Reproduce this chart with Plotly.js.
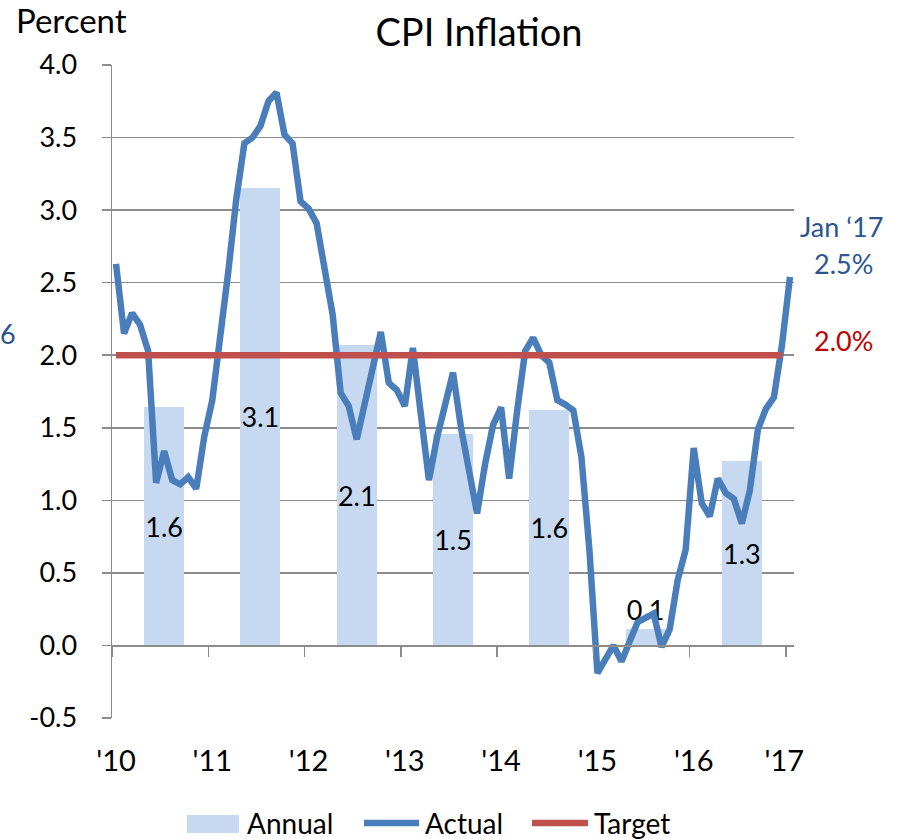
<!DOCTYPE html>
<html>
<head>
<meta charset="utf-8">
<script src="https://cdn.plot.ly/plotly-3.0.1.min.js"></script>
<style>
  html, body { margin: 0; padding: 0; background: #fff; }
  #chart { width: 902px; height: 839px; }
</style>
</head>
<body>
<div id="chart"></div>
<script>
// ---------------- DATA ----------------
// Annual averages (bars), centred mid-year (July of each year)
const annualYears = ['2010', '2011', '2012', '2013', '2014', '2015', '2016'];
const annualMonthIndex = [6, 18, 30, 42, 54, 66, 78];   // month index, Jan 2010 = 0
const annualValues = [1.64, 3.15, 2.07, 1.46, 1.62, 0.11, 1.27];

// Monthly CPI inflation, Jan 2010 .. Jan 2017 (85 months)
const actualValues = [
  2.63, 2.15, 2.29, 2.21, 2.03, 1.12, 1.34, 1.14, 1.11, 1.16, 1.08, 1.44,   // 2010
  1.69, 2.10, 2.58, 3.08, 3.46, 3.50, 3.58, 3.75, 3.81, 3.52, 3.46, 3.06,   // 2011
  3.01, 2.91, 2.59, 2.28, 1.74, 1.65, 1.42, 1.66, 1.90, 2.16, 1.81, 1.76,   // 2012
  1.65, 2.05, 1.59, 1.14, 1.43, 1.67, 1.88, 1.50, 1.19, 0.91, 1.25, 1.52,   // 2013
  1.64, 1.15, 1.62, 2.03, 2.12, 2.00, 1.95, 1.69, 1.66, 1.62, 1.30, 0.66,   // 2014
  -0.19, -0.09, 0.00, -0.11, 0.03, 0.16, 0.19, 0.22, -0.01, 0.11, 0.45, 0.66, // 2015
  1.36, 0.98, 0.89, 1.15, 1.05, 1.01, 0.84, 1.07, 1.49, 1.63, 1.71, 2.07,   // 2016
  2.54                                                                     // Jan 2017
];
const monthIndex = actualValues.map((_, i) => i);

// Target: 2.0% from Jan 2010 to Dec 2016
const targetValue = 2.0;
const targetMonths = monthIndex.slice(0, 84);
const targetValues = targetMonths.map(() => targetValue);

// Axis labels
const yTickValues = [-0.5, 0, 0.5, 1.0, 1.5, 2.0, 2.5, 3.0, 3.5, 4.0];
const yTickLabels = ['-0.5', '0.0', '0.5', '1.0', '1.5', '2.0', '2.5', '3.0', '3.5', '4.0'];
const yearTickLabels = ["'10", "'11", "'12", "'13", "'14", "'15", "'16", "'17"];
const yearTickMonth = [0, 12, 24, 36, 48, 60, 72, 83.3];
const yearBoundary = [-0.5, 11.5, 23.5, 35.5, 47.5, 59.5, 71.5, 83.5];

// ---------------- STYLE ----------------
const FONT = 'Lato, "Open Sans", sans-serif';
const BAR_COLOR = '#C6D9F1';
const LINE_COLOR = '#4A7EBB';
const TARGET_COLOR = '#C0504D';
const GRID = '#8C8C8C';
const NOTE_BLUE = '#2B5591';

const L = 112, R = 108, T = 65, B = 121, W = 902, H = 839;
const PW = W - L - R, PH = H - T - B;
const px = v => (v - L) / PW;
const py = v => (H - B - v) / PH;

const traces = [
  {
    type: 'bar', name: 'Annual',
    x: annualMonthIndex, y: annualValues,
    width: 5,
    marker: { color: BAR_COLOR, line: { width: 0 } },
    texttemplate: '%{y:.1f}',
    textposition: annualValues.map(v => v < 0.5 ? 'outside' : 'inside'),
    insidetextanchor: 'middle',
    textangle: 0,
    constraintext: 'none',
    cliponaxis: false,
    textfont: { family: FONT, size: 27, color: '#000' },
    hoverinfo: 'skip', showlegend: false
  },
  {
    type: 'scatter', mode: 'lines', name: 'Actual',
    x: monthIndex, y: actualValues,
    line: { color: LINE_COLOR, width: 6.5 },
    showlegend: false
  },
  {
    type: 'scatter', mode: 'lines', name: 'Target',
    x: targetMonths, y: targetValues,
    xaxis: 'x2',
    line: { color: TARGET_COLOR, width: 6.5 },
    showlegend: false
  }
];

const ann = (text, x, y, opts) => Object.assign({
  text, xref: 'paper', yref: 'paper', x: px(x), y: py(y),
  showarrow: false, xanchor: 'center', yanchor: 'middle',
  font: { family: FONT, size: 26, color: '#000' }
}, opts || {});

const layout = {
  width: W, height: H,
  margin: { l: L, r: R, t: T, b: B, pad: 0 },
  paper_bgcolor: '#fff', plot_bgcolor: '#fff',
  font: { family: FONT, color: '#000' },
  title: {
    text: 'CPI Inflation',
    font: { family: FONT, size: 38, color: '#000' },
    x: 479 / W, xref: 'container', xanchor: 'center',
    y: 1 - 33 / H, yref: 'container', yanchor: 'middle'
  },
  showlegend: false,
  bargap: 0,
  xaxis: {
    range: [-0.5, 84.5], showgrid: false, zeroline: false, showline: false,
    tickmode: 'array', tickvals: yearTickMonth, ticktext: yearTickLabels,
    ticks: '', ticklabelstandoff: 23,
    tickfont: { family: FONT, size: 29, color: '#000' },
    fixedrange: true
  },
  xaxis2: {
    overlaying: 'x', anchor: 'free', position: 0.5 / 4.5,
    range: [-0.5, 84.5], showgrid: false, zeroline: false,
    showline: true, linecolor: GRID, linewidth: 1.5,
    tickmode: 'array', tickvals: yearBoundary,
    ticks: 'outside', ticklen: 10, tickwidth: 1.5, tickcolor: GRID,
    showticklabels: false, fixedrange: true
  },
  yaxis: {
    range: [-0.5, 4.0],
    tickmode: 'array', tickvals: yTickValues, ticktext: yTickLabels,
    showgrid: true, gridcolor: GRID, gridwidth: 1.5,
    zeroline: false, showline: true, linecolor: GRID, linewidth: 1.5,
    ticks: 'outside', ticklen: 9, tickwidth: 1.5, tickcolor: GRID,
    ticklabelstandoff: 19,
    tickfont: { family: FONT, size: 27, color: '#000' },
    fixedrange: true
  },
  annotations: [
    ann('Percent', 14, 20, { xanchor: 'left', font: { family: FONT, size: 33, color: '#000' } }),
    ann('Jan \u201817', 841, 226, { font: { family: FONT, size: 27, color: NOTE_BLUE } }),
    ann('2.5%', 843, 263, { font: { family: FONT, size: 27, color: NOTE_BLUE } }),
    ann('2.0%', 843, 340, { font: { family: FONT, size: 27, color: '#C00000' } }),
    ann('6', 8, 333, { font: { family: FONT, size: 27, color: NOTE_BLUE } }),
    ann('Annual', 245, 823, { xanchor: 'left', font: { family: FONT, size: 28, color: '#000' } }),
    ann('Actual', 423, 823, { xanchor: 'left', font: { family: FONT, size: 28, color: '#000' } }),
    ann('Target', 592, 823, { xanchor: 'left', font: { family: FONT, size: 28, color: '#000' } })
  ],
  shapes: [
    { type: 'rect', xref: 'paper', yref: 'paper', x0: px(187), x1: px(239), y0: py(833), y1: py(815),
      fillcolor: BAR_COLOR, line: { width: 0 } },
    { type: 'line', xref: 'paper', yref: 'paper', x0: px(364), x1: px(419), y0: py(823), y1: py(823),
      line: { color: LINE_COLOR, width: 6.5 } },
    { type: 'line', xref: 'paper', yref: 'paper', x0: px(532), x1: px(588), y0: py(823), y1: py(823),
      line: { color: TARGET_COLOR, width: 6.5 } }
  ]
};

Plotly.newPlot('chart', traces, layout, { displayModeBar: false, staticPlot: true });
</script>
</body>
</html>
